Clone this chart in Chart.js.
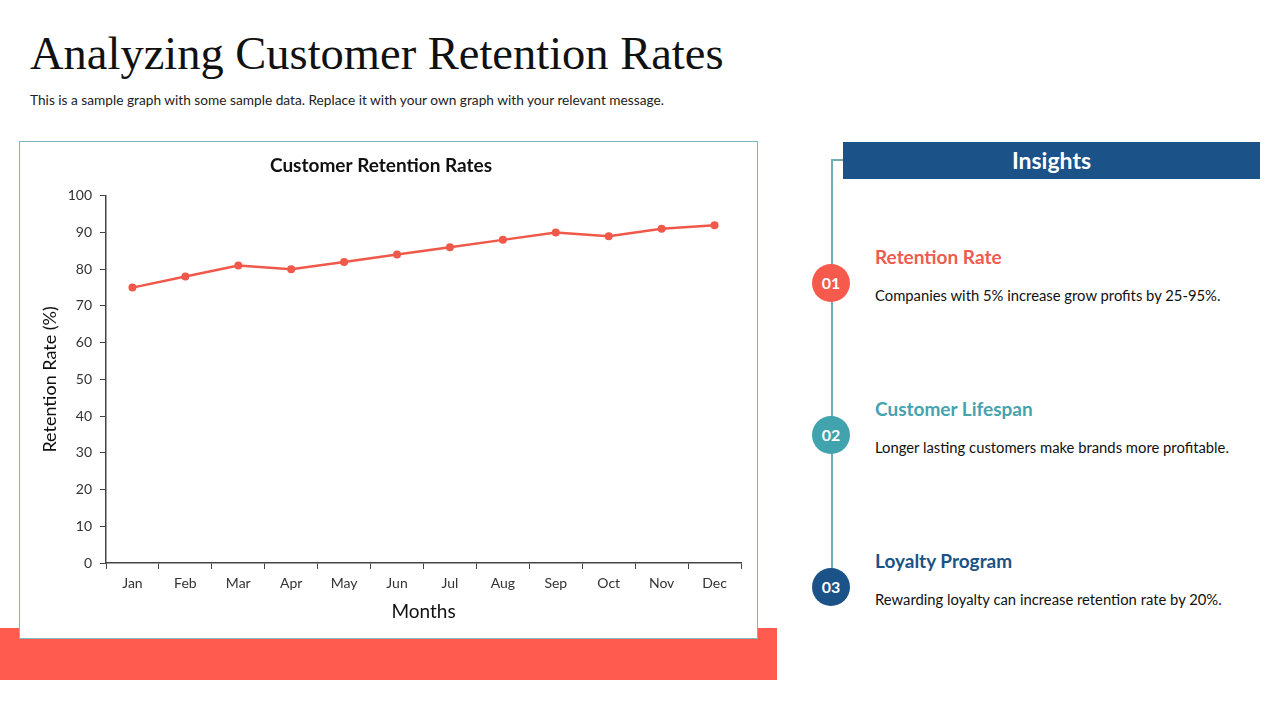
<!DOCTYPE html>
<html><head><meta charset="utf-8">
<script src="https://cdn.jsdelivr.net/npm/chart.js@4/dist/chart.umd.min.js"></script>
<style>
html,body{margin:0;padding:0;background:#fff;}
#stage{position:relative;width:1280px;height:720px;overflow:hidden;font-family:Lato,"Open Sans",sans-serif;}
.abs{position:absolute;}
#title{left:30px;top:26px;font-family:"Liberation Serif","DejaVu Serif",serif;font-size:46.5px;color:#111;white-space:nowrap;line-height:56px;}
#sub{left:30px;top:91px;font-size:13.7px;color:#222;white-space:nowrap;}
#band{left:0;top:628px;width:777px;height:52px;background:#FF5B4F;}
#box{left:19px;top:141px;width:739px;height:498px;border:1.5px solid #7FB6C0;background:#fff;box-sizing:border-box;}
#cv{left:21px;top:143px;}
#ins{left:843px;top:142px;width:417px;height:37px;background:#1B5287;color:#fff;font-weight:bold;font-size:23px;text-align:center;line-height:37px;}
#vline{left:831px;top:160px;width:2px;height:428px;background:#6FADB7;}
#hline{left:831px;top:159px;width:12px;height:2px;background:#6FADB7;}
.circ{width:38px;height:38px;border-radius:50%;color:#fff;font-weight:bold;font-size:16px;text-align:center;line-height:38px;left:812px;}
.hd{left:875px;font-weight:bold;font-size:19px;white-space:nowrap;}
.bd{left:875px;font-size:14.8px;color:#111;white-space:nowrap;}
</style></head>
<body><div id="stage">
<div id="title" class="abs">Analyzing Customer Retention Rates</div>
<div id="sub" class="abs">This is a sample graph with some sample data. Replace it with your own graph with your relevant message.</div>
<div id="band" class="abs"></div>
<div id="box" class="abs"></div>
<canvas id="cv" class="abs" width="734" height="494"></canvas>
<div id="ins" class="abs">Insights</div>
<div id="vline" class="abs"></div>
<div id="hline" class="abs"></div>
<div class="abs circ" style="top:264px;background:#F65A4D;">01</div>
<div class="abs circ" style="top:416px;background:#40A3AD;">02</div>
<div class="abs circ" style="top:568px;background:#1B5287;">03</div>
<div class="abs hd" style="top:245px;color:#EE5B4F;">Retention Rate</div>
<div class="abs bd" style="top:286px;">Companies with 5% increase grow profits by 25-95%.</div>
<div class="abs hd" style="top:397px;color:#45A3AE;">Customer Lifespan</div>
<div class="abs bd" style="top:438px;">Longer lasting customers make brands more profitable.</div>
<div class="abs hd" style="top:549px;color:#1B5287;">Loyalty Program</div>
<div class="abs bd" style="top:590px;">Rewarding loyalty can increase retention rate by 20%.</div>
</div>
<script>
const months = ["Jan","Feb","Mar","Apr","May","Jun","Jul","Aug","Sep","Oct","Nov","Dec"];
const retention = [75,78,81,80,82,84,86,88,90,89,91,92];
const yTicks = [0,10,20,30,40,50,60,70,80,90,100];

new Chart(document.getElementById('cv'), {
  type: 'line',
  data: { labels: months, datasets: [{
    label: 'Retention Rate', data: retention,
    borderColor: '#F0584A', backgroundColor: '#F0584A', borderWidth: 2.5,
    pointRadius: 4, pointBackgroundColor: '#F0584A', pointBorderWidth: 0, tension: 0
  }]},
  options: {
    responsive: false, animation: false,
    layout: { padding: { left: 0, right: 14, top: 0, bottom: 0 } },
    plugins: {
      legend: { display: false }, tooltip: { enabled: false },
      title: { display: true, text: 'Customer Retention Rates', color: '#111',
        font: { family: 'Lato', size: 19, weight: 'bold' }, padding: { top: 11, bottom: 19 } }
    },
    scales: {
      x: {
        offset: true,
        grid: { display: true, drawOnChartArea: false, drawTicks: true, tickLength: 6, color: '#444', offset: true },
        border: { color: '#444', width: 1.5 },
        ticks: { color: '#333', font: { family: 'Lato', size: 14 }, padding: 6, maxRotation: 0 },
        title: { display: true, text: 'Months', color: '#111', font: { family: 'Lato', size: 19 }, padding: { top: 4, bottom: 14 } },
        afterFit: s => { s.height = 74; }
      },
      y: {
        min: 0, max: 100,
        afterBuildTicks: s => { s.ticks = yTicks.map(v => ({ value: v })); },
        grid: { display: true, drawOnChartArea: false, drawTicks: true, tickLength: 6, color: '#444' },
        border: { color: '#444', width: 1.5 },
        ticks: { color: '#333', font: { family: 'Lato', size: 14 }, padding: 8 },
        title: { display: true, text: 'Retention Rate (%)', color: '#111', font: { family: 'Lato', size: 18 }, padding: { top: 18, bottom: 4 } },
        afterFit: s => { s.width = 85; }
      }
    }
  }
});
</script>
</body></html>
